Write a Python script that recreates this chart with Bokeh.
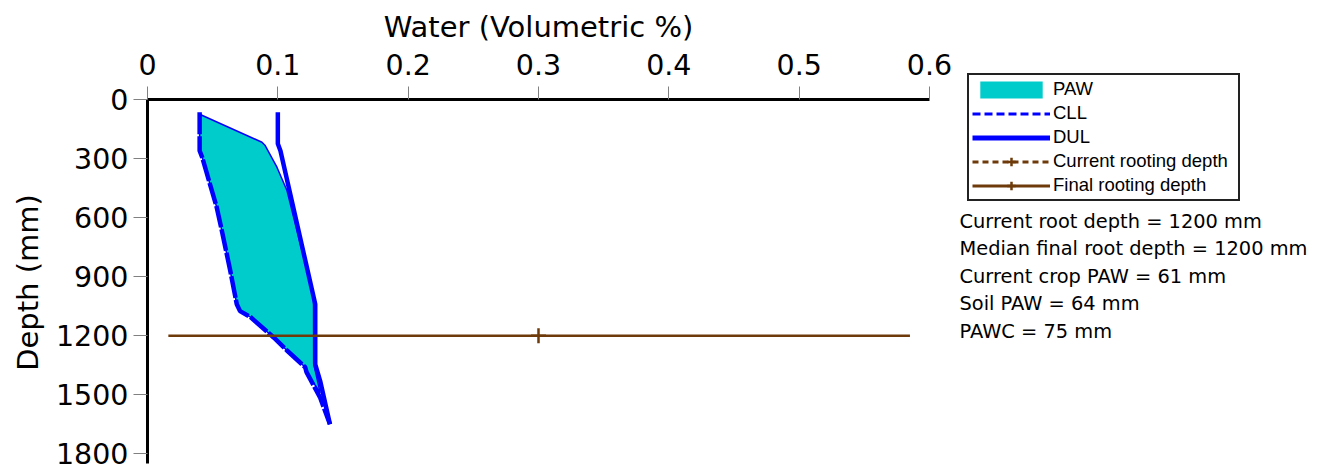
import math
from bokeh.plotting import figure
from bokeh.models import Range1d, FixedTicker, Legend, LegendItem, Label
from bokeh.embed import file_html
from bokeh.resources import INLINE

# ---------------- data ----------------
water_ticks = [0, 0.1, 0.2, 0.3, 0.4, 0.5, 0.6]
water_tick_labels = ["0", "0.1", "0.2", "0.3", "0.4", "0.5", "0.6"]
depth_ticks = [0, 300, 600, 900, 1200, 1500, 1800]

# Crop lower limit (CLL)
cll_depth = [65, 260, 295, 545, 665, 870, 1040, 1075, 1105, 1210, 1275, 1360, 1385, 1515, 1650]
cll_water = [0.040, 0.040, 0.042, 0.053, 0.057, 0.0635, 0.0685, 0.071, 0.079, 0.097, 0.107, 0.121, 0.122, 0.1325, 0.140]

# Drained upper limit (DUL)
dul_depth = [65, 225, 260, 1005, 1040, 1345, 1430, 1650]
dul_water = [0.100, 0.100, 0.102, 0.1275, 0.1287, 0.1287, 0.1325, 0.140]

# Current soil water (upper edge of PAW area)
sw_depth = [75, 217, 234, 344, 462, 1004, 1343, 1490]
sw_water = [0.040, 0.0878, 0.0903, 0.0993, 0.107, 0.1274, 0.1275, 0.1325]

# Rooting depths
current_root_depth = 1200
final_root_depth = 1200
root_line_water = [0.016, 0.585]
root_tick_water = [0.3]

x_title = "Water (Volumetric %)"
y_title = "Depth (mm)"
legend_labels = ["PAW", "CLL", "DUL", "Current rooting depth", "Final rooting depth"]
stats_labels = [
    "Current root depth = 1200 mm",
    "Median final root depth = 1200 mm",
    "Current crop PAW = 61 mm",
    "Soil PAW = 64 mm",
    "PAWC = 75 mm",
]

# axis extents (water 0..0.6, depth 0..1849 mm)
water_bounds = (0, 0.6)
depth_bounds = (0, 1849)

# ---------------- figure ----------------
BLUE = "#0000FF"
CYAN = "#00CCCC"
BROWN = "#6E3A0A"
AXFONT = "DejaVu Sans"

W, H = 1329, 470
AX_LEFT = 147          # page x of water 0
AX_TOP = 99            # page y of depth 0
PX_PER_WATER = 782 / 0.6
PX_PER_MM = 364 / 1849
x_start = -AX_LEFT / PX_PER_WATER
x_end = (W - AX_LEFT) / PX_PER_WATER
y_start = -AX_TOP / PX_PER_MM
y_end = (H - AX_TOP) / PX_PER_MM

p = figure(width=W, height=H,
           x_range=Range1d(x_start, x_end), y_range=Range1d(y_end, y_start),
           x_axis_location="above",
           output_backend="svg", toolbar_location=None,
           min_border_left=0, min_border_top=0,
           min_border_right=0, min_border_bottom=0)
p.outline_line_color = None
p.xgrid.visible = False
p.ygrid.visible = False

# PAW area polygon: soil water edge down, CLL back up
poly_x = list(sw_water)
poly_y = list(sw_depth)
for w, d in reversed(list(zip(cll_water, cll_depth))):
    if sw_depth[0] <= d < sw_depth[-1]:
        poly_x.append(w)
        poly_y.append(d)
p.patch(poly_x, poly_y, fill_color=CYAN, line_color=BLUE, line_width=1.5)

p.line(cll_water, cll_depth, line_color=BLUE, line_width=4.5, line_dash="22 2")
p.line(dul_water, dul_depth, line_color=BLUE, line_width=4.5)

p.line(root_line_water, [final_root_depth] * len(root_line_water),
       line_color=BROWN, line_width=2.5)
p.scatter(root_tick_water, [final_root_depth], marker="cross", size=15,
          line_color=BROWN, line_width=2.5)

# ---------------- axes ----------------
for ax in (p.xaxis[0], p.yaxis[0]):
    ax.axis_line_width = 3
    ax.axis_line_color = "black"
    ax.major_tick_line_color = "#808080"
    ax.major_tick_line_width = 1
    ax.major_tick_in = 0
    ax.minor_tick_line_color = None
    ax.major_label_text_font = AXFONT
    ax.major_label_text_font_size = "28.5px"
    ax.major_label_text_color = "black"

xa = p.xaxis[0]
xa.ticker = FixedTicker(ticks=water_ticks)
xa.major_label_overrides = {v: l for v, l in zip(water_ticks, water_tick_labels)}
xa.bounds = water_bounds
xa.fixed_location = 0
xa.major_tick_out = 13
xa.major_label_standoff = 12

ya = p.yaxis[0]
ya.ticker = FixedTicker(ticks=depth_ticks)
ya.bounds = depth_bounds
ya.fixed_location = 0
ya.major_tick_out = 14
ya.major_label_standoff = 5

# axis titles
p.add_layout(Label(x=538, y=H - 26, x_units="screen", y_units="screen", text=x_title,
                   text_font=AXFONT, text_font_size="29px", text_align="center",
                   text_baseline="middle", text_color="black"))
p.add_layout(Label(x=27, y=H - 282, x_units="screen", y_units="screen", text=y_title,
                   angle=math.pi / 2, text_font=AXFONT, text_font_size="29px",
                   text_align="center", text_baseline="middle", text_color="black"))

# ---------------- legend (legend-only renderers, no visible data) ----------------
nan = float("nan")
paw_leg = p.patch([nan], [nan], fill_color=CYAN, line_color=None)
cll_leg = p.line([nan], [nan], line_color=BLUE, line_width=3, line_dash="8 4")
dul_leg = p.line([nan], [nan], line_color=BLUE, line_width=5)
cur_leg_l = p.line([nan], [nan], line_color=BROWN, line_width=3, line_dash="6 4")
cur_leg_m = p.scatter([nan], [nan], marker="cross", line_color=BROWN, line_width=2.5)
fin_leg_l = p.line([nan], [nan], line_color=BROWN, line_width=3)
fin_leg_m = p.scatter([nan], [nan], marker="cross", line_color=BROWN, line_width=2.5)

legend = Legend(items=[
    LegendItem(label=legend_labels[0], renderers=[paw_leg]),
    LegendItem(label=legend_labels[1], renderers=[cll_leg]),
    LegendItem(label=legend_labels[2], renderers=[dul_leg]),
    LegendItem(label=legend_labels[3], renderers=[cur_leg_l, cur_leg_m]),
    LegendItem(label=legend_labels[4], renderers=[fin_leg_l, fin_leg_m]),
], location=(967, H - 201))
legend.border_line_color = "#222222"
legend.border_line_alpha = 1
legend.border_line_width = 2
legend.background_fill_color = "white"
legend.background_fill_alpha = 1
legend.label_text_font = "Liberation Sans"
legend.label_text_font_size = "18.5px"
legend.label_text_color = "black"
legend.glyph_width = 78
legend.glyph_height = 21
legend.label_height = 21
legend.label_width = 182
legend.spacing = 2
legend.padding = 3
legend.label_standoff = 3
legend.margin = 0
p.add_layout(legend)

# ---------------- stats text ----------------
stats_page_y = [221, 248, 276, 303, 331]
for txt, yy in zip(stats_labels, stats_page_y):
    p.add_layout(Label(x=959, y=H - yy, x_units="screen", y_units="screen", text=txt,
                       text_font=AXFONT, text_font_size="19.4px",
                       text_baseline="middle", text_color="black"))

open("out.html", "w").write(file_html(p, INLINE))
